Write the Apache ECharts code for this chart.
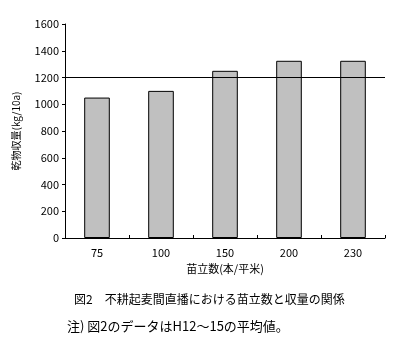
<!DOCTYPE html>
<html>
<head>
<meta charset="utf-8">
<script src="https://cdn.jsdelivr.net/npm/echarts@6/dist/echarts.min.js"></script>
<style>
  html, body { margin: 0; padding: 0; background: #fff; }
  #chart { width: 397px; height: 352px; }
</style>
</head>
<body>
<div id="chart"></div>
<script>
const categories = ['75', '100', '150', '200', '230'];
const yieldValues = [1050, 1100, 1250, 1325, 1325];
const referenceLine = 1200;
const yTicks = { min: 0, max: 1600, interval: 200 };

const FONT = '"Noto Sans CJK JP", sans-serif';

const chart = echarts.init(document.getElementById('chart'), null, { renderer: 'canvas' });

chart.setOption({
  backgroundColor: '#fff',
  animation: false,
  textStyle: { fontFamily: FONT, color: '#000' },
  grid: { left: 65, right: 12, top: 24, bottom: 114 },
  xAxis: {
    type: 'category',
    data: categories,
    name: '苗立数(本/平米)',
    nameLocation: 'middle',
    nameGap: 25,
    nameTextStyle: { fontSize: 11, color: '#000', fontFamily: FONT },
    axisLine: { lineStyle: { color: '#000', width: 1 } },
    axisTick: { show: true, inside: true, length: 3, lineStyle: { color: '#000' } },
    axisLabel: { color: '#000', fontSize: 11, margin: 9, fontFamily: FONT },
  },
  yAxis: {
    type: 'value',
    min: yTicks.min, max: yTicks.max, interval: yTicks.interval,
    name: '乾物収量(kg/10a)',
    nameLocation: 'middle',
    nameGap: 44,
    nameRotate: 90,
    nameTextStyle: { fontSize: 10, color: '#000', fontFamily: FONT },
    axisLine: { show: true, lineStyle: { color: '#000', width: 1 } },
    axisTick: { show: true, length: 3, lineStyle: { color: '#000' } },
    splitLine: { show: false },
    axisLabel: { color: '#000', fontSize: 11, margin: 6, fontFamily: FONT, formatter: (v) => String(v) },
  },
  series: [{
    type: 'bar',
    data: yieldValues,
    barWidth: '40%',
    itemStyle: { color: '#c0c0c0', borderColor: '#000', borderWidth: 1 },
    markLine: {
      silent: true, symbol: 'none',
      label: { show: false },
      lineStyle: { color: '#000', type: 'solid', width: 1 },
      data: [{ yAxis: referenceLine }],
    },
  }],
  graphic: [
    {
      type: 'text', left: 74, top: 293,
      style: { text: '図2　不耕起麦間直播における苗立数と収量の関係', font: '12px ' + FONT, fill: '#000' },
    },
    {
      type: 'text', left: 67, top: 320,
      style: { text: '注) 図2のデータはH12～15の平均値。', font: '13px ' + FONT, fill: '#000' },
    },
  ],
});
</script>
</body>
</html>
